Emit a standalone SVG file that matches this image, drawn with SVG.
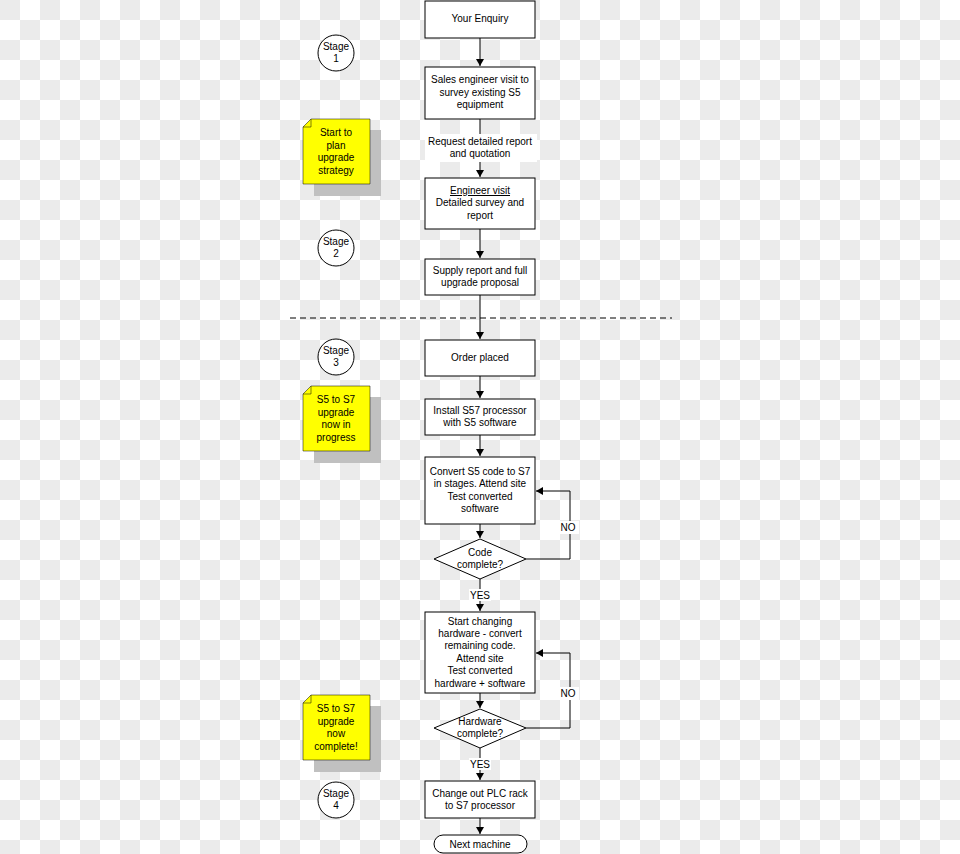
<svg xmlns="http://www.w3.org/2000/svg" width="960" height="854" viewBox="0 0 960 854">
<defs>
<pattern id="chk" width="40" height="40" patternUnits="userSpaceOnUse"><rect width="40" height="40" fill="#fff"/><rect width="20" height="20" fill="#ebebeb"/><rect x="20" y="20" width="20" height="20" fill="#ebebeb"/></pattern>
<marker id="ar" markerWidth="8" markerHeight="8" refX="7" refY="4" orient="auto" markerUnits="userSpaceOnUse"><path d="M0,0 L7,4 L0,8 z" fill="#000"/></marker>
</defs>
<style>
.b{fill:#fff;stroke:#000;stroke-width:1}
.t{font-family:"Liberation Sans",Arial,sans-serif;font-size:10px;text-anchor:middle;fill:#000}
.c{stroke:#000;stroke-width:1;fill:none}
.n{fill:#ffff00}
.s{fill:#c0c0c0}
</style>
<rect width="960" height="854" fill="url(#chk)"/>
<line x1="290" y1="318" x2="672" y2="318" stroke="#000" stroke-dasharray="6,4"/>
<g id="connectors">
<line class="c" x1="480" y1="38" x2="480" y2="66" marker-end="url(#ar)"/>
<line class="c" x1="480" y1="119" x2="480" y2="177" marker-end="url(#ar)"/>
<line class="c" x1="480" y1="229" x2="480" y2="258" marker-end="url(#ar)"/>
<line class="c" x1="480" y1="295" x2="480" y2="339" marker-end="url(#ar)"/>
<line class="c" x1="480" y1="376" x2="480" y2="398" marker-end="url(#ar)"/>
<line class="c" x1="480" y1="435" x2="480" y2="456" marker-end="url(#ar)"/>
<line class="c" x1="480" y1="524" x2="480" y2="538" marker-end="url(#ar)"/>
<line class="c" x1="480" y1="579" x2="480" y2="611" marker-end="url(#ar)"/>
<polyline class="c" points="526,559 570,559 570,491 536,491" marker-end="url(#ar)"/>
<line class="c" x1="480" y1="693" x2="480" y2="708" marker-end="url(#ar)"/>
<line class="c" x1="480" y1="748" x2="480" y2="780" marker-end="url(#ar)"/>
<polyline class="c" points="526,728 570,728 570,653 536,653" marker-end="url(#ar)"/>
<line class="c" x1="480" y1="818" x2="480" y2="834" marker-end="url(#ar)"/>
<rect x="425" y="134" width="112" height="28" fill="#fff"/>
<text class="t" x="480" y="145">Request detailed report</text>
<text class="t" x="480" y="157">and quotation</text>
<rect x="469" y="589" width="22" height="12" fill="#fff"/>
<text class="t" x="480" y="599">YES</text>
<rect x="469" y="758" width="22" height="12" fill="#fff"/>
<text class="t" x="480" y="768">YES</text>
<rect x="559" y="521" width="20" height="13" fill="#fff"/>
<text class="t" x="568" y="531">NO</text>
<rect x="559" y="687" width="20" height="13" fill="#fff"/>
<text class="t" x="568" y="697">NO</text>
</g>
<g id="enquiry"><rect class="b" x="425" y="1" width="110" height="37"/><text class="t" x="480" y="22">Your Enquiry</text></g>
<g id="sales"><rect class="b" x="425" y="67" width="110" height="52"/><text class="t" x="480" y="83">Sales engineer visit  to</text><text class="t" x="480" y="96">survey existing S5</text><text class="t" x="480" y="108">equipment</text></g>
<g id="engineer"><rect class="b" x="425" y="178" width="110" height="51"/><text class="t" x="480" y="194" text-decoration="underline">Engineer visit</text><text class="t" x="480" y="206">Detailed survey and</text><text class="t" x="480" y="219">report</text></g>
<g id="supply"><rect class="b" x="425" y="259" width="110" height="36"/><text class="t" x="480" y="274">Supply report and full</text><text class="t" x="480" y="286">upgrade proposal</text></g>
<g id="order"><rect class="b" x="425" y="340" width="110" height="36"/><text class="t" x="480" y="361">Order placed</text></g>
<g id="install"><rect class="b" x="425" y="399" width="110" height="36"/><text class="t" x="480" y="414">Install S57 processor</text><text class="t" x="480" y="426">with S5 software</text></g>
<g id="convert"><rect class="b" x="425" y="457" width="110" height="67"/><text class="t" x="480" y="475">Convert S5 code to S7</text><text class="t" x="480" y="487">in stages. Attend site</text><text class="t" x="480" y="500">Test converted</text><text class="t" x="480" y="512">software</text></g>
<g id="codecomplete"><polygon class="b" points="434,559 480,539 526,559 480,579"/><text class="t" x="480" y="556">Code</text><text class="t" x="480" y="568">complete?</text></g>
<g id="hardware"><rect class="b" x="425" y="612" width="110" height="81"/><text class="t" x="480" y="625">Start changing</text><text class="t" x="480" y="637">hardware - convert</text><text class="t" x="480" y="649">remaining code.</text><text class="t" x="480" y="662">Attend site</text><text class="t" x="480" y="674">Test converted</text><text class="t" x="480" y="687">hardware + software</text></g>
<g id="hwcomplete"><polygon class="b" points="434,728 480,709 526,728 480,748"/><text class="t" x="480" y="725">Hardware</text><text class="t" x="480" y="737">complete?</text></g>
<g id="change"><rect class="b" x="425" y="781" width="110" height="37"/><text class="t" x="480" y="797">Change out PLC rack</text><text class="t" x="480" y="809">to S7 processor</text></g>
<g id="next"><rect class="b" x="434" y="835" width="93" height="18" rx="9"/><text class="t" x="480" y="848">Next machine</text></g>
<g id="stage1"><circle class="b" cx="336" cy="53" r="18"/><text class="t" x="336" y="50">Stage</text><text class="t" x="336" y="62">1</text></g>
<g id="stage2"><circle class="b" cx="336" cy="248" r="18"/><text class="t" x="336" y="245">Stage</text><text class="t" x="336" y="257">2</text></g>
<g id="stage3"><circle class="b" cx="336" cy="357" r="18"/><text class="t" x="336" y="354">Stage</text><text class="t" x="336" y="366">3</text></g>
<g id="stage4"><circle class="b" cx="336" cy="800" r="18"/><text class="t" x="336" y="797">Stage</text><text class="t" x="336" y="809">4</text></g>
<g id="note1"><rect class="s" x="314" y="130" width="67" height="66"/><path class="n" d="M303,127 L311,119 L370,119 L370,184 L303,184 Z" stroke="#000" stroke-width="0.5"/><path d="M303,127 L311,127 L311,119" fill="none" stroke="#000" stroke-width="0.5"/><text class="t" x="336" y="136">Start to</text><text class="t" x="336" y="149">plan</text><text class="t" x="336" y="161">upgrade</text><text class="t" x="336" y="174">strategy</text></g>
<g id="note2"><rect class="s" x="314" y="397" width="67" height="66"/><path class="n" d="M303,394 L311,386 L370,386 L370,451 L303,451 Z" stroke="#000" stroke-width="0.5"/><path d="M303,394 L311,394 L311,386" fill="none" stroke="#000" stroke-width="0.5"/><text class="t" x="336" y="403">S5 to S7</text><text class="t" x="336" y="416">upgrade</text><text class="t" x="336" y="428">now in</text><text class="t" x="336" y="441">progress</text></g>
<g id="note3"><rect class="s" x="314" y="706" width="67" height="66"/><path class="n" d="M303,703 L311,695 L370,695 L370,760 L303,760 Z" stroke="#000" stroke-width="0.5"/><path d="M303,703 L311,703 L311,695" fill="none" stroke="#000" stroke-width="0.5"/><text class="t" x="336" y="712">S5 to S7</text><text class="t" x="336" y="725">upgrade</text><text class="t" x="336" y="737">now</text><text class="t" x="336" y="750">complete!</text></g>
</svg>
